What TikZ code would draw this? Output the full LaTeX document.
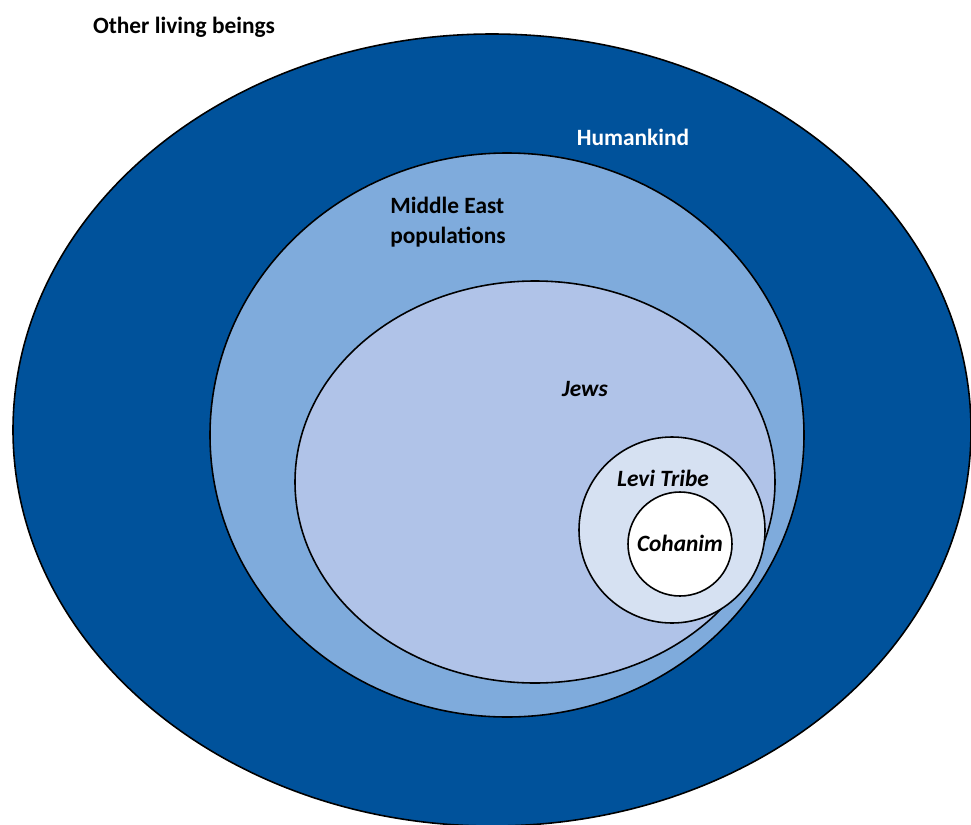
\documentclass[tikz,border=0pt]{standalone}
\usepackage{fontspec}
\setmainfont{Carlito}
\usetikzlibrary{positioning}

\definecolor{humanblue}{HTML}{00529B}
\definecolor{eastblue}{HTML}{7FABDC}
\definecolor{jewsblue}{HTML}{B0C3E8}
\definecolor{leviblue}{HTML}{D6E1F2}

\tikzset{
	ring/.style = {draw = black, line width = 0.9pt},
	lbl/.style  = {font = \fontsize{13.3}{17}\selectfont\bfseries, inner sep = 0pt},
	ilbl/.style = {lbl, font = \fontsize{13.3}{17}\selectfont\bfseries\itshape}
}

\begin{document}
\begin{tikzpicture}[x = 0.02cm, y = -0.02cm]

	\useasboundingbox (0, 0) rectangle (971, 825);
	\clip (0, 0) rectangle (971, 825);

	%%% ANEIS %%%

	\draw[ring, fill = humanblue] (492, 430) ellipse (479 and 396); % Humankind
	\draw[ring, fill = eastblue]  (507, 435) ellipse (297 and 282); % Middle East
	\draw[ring, fill = jewsblue]  (535, 482) ellipse (240 and 201); % Jews
	\draw[ring, fill = leviblue]  (672, 530) circle (93);          % Levi
	\draw[ring, fill = white]     (680, 544) circle (52);          % Cohanim

	%%% TEXTOS %%%

	\node[lbl] (other) at (184, 27) {Other living beings};
	\node[lbl, text = white] (human) at (633, 137) {Humankind};
	\node[lbl, align = left, anchor = north west] (east) at (390, 197) {Middle East\\populations};
	\node[ilbl] (jews) at (585, 389) {Jews};
	\node[ilbl] (levi) at (663, 478) {Levi Tribe};
	\node[ilbl] (cohen) at (680, 543) {Cohanim};

\end{tikzpicture}
\end{document}
